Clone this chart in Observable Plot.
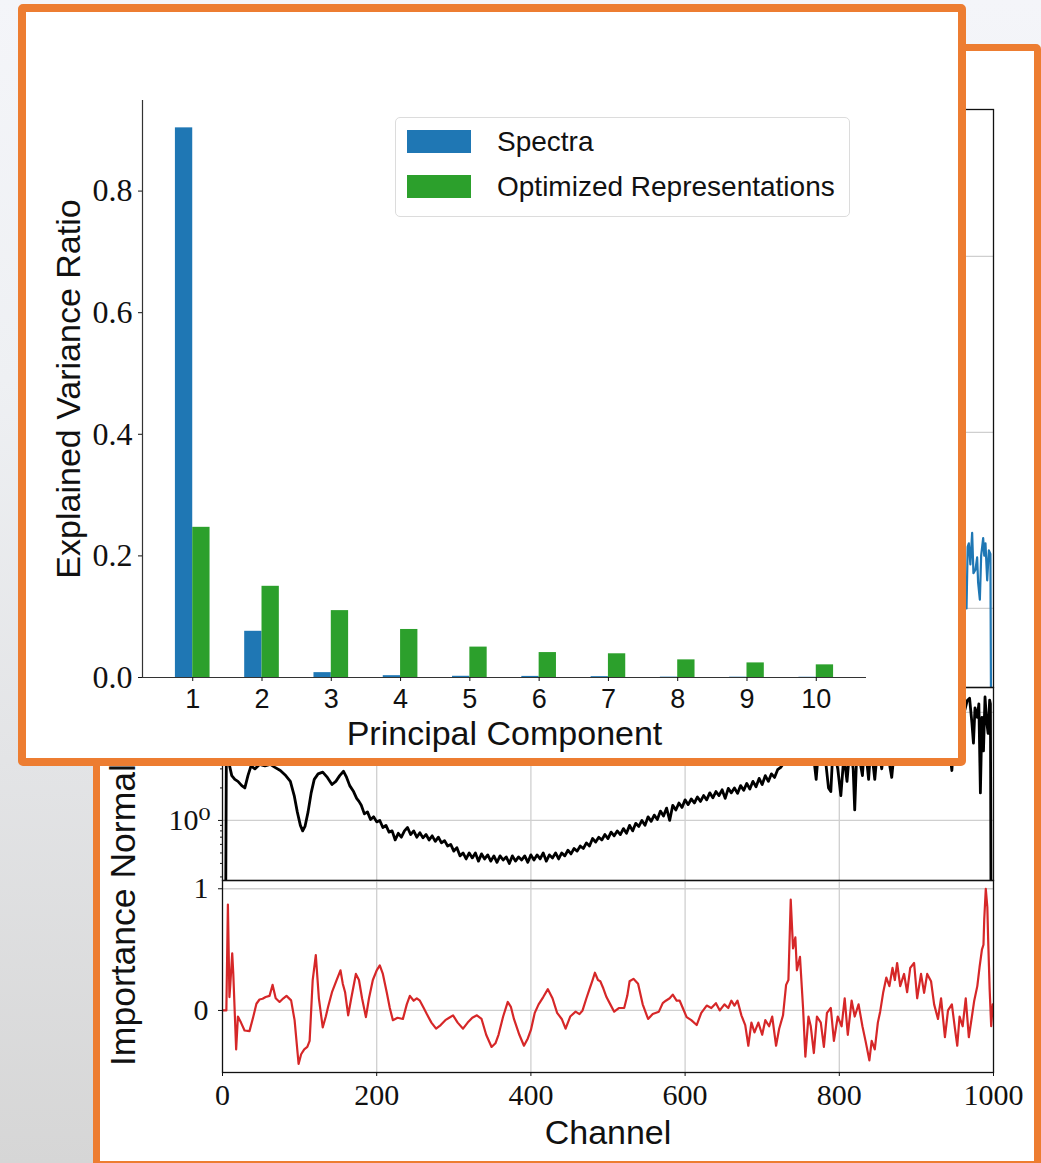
<!DOCTYPE html>
<html>
<head>
<meta charset="utf-8">
<script src="https://cdn.jsdelivr.net/npm/d3@7"></script>
<script src="https://cdn.jsdelivr.net/npm/@observablehq/plot@0.6"></script>
<style>
  body { margin: 0; }
  #page { position: relative; width: 1041px; height: 1163px; overflow: hidden;
    background: linear-gradient(to bottom, #f4f5f9 0px, #eef0f3 380px, #e3e4e6 760px, #d6d6d6 1163px); }
  .panel { position: absolute; box-sizing: border-box; background: #fff; border-style: solid; border-color: #ED7D31; border-radius: 5px; }
  #back { left: 93px; top: 44px; width: 948px; height: 1124px; border-width: 7px; }
  #front { left: 18px; top: 4px; width: 948px; height: 762px; border-width: 8px; }
  #ylabBack { position: absolute; left: 106px; top: 1066px; transform-origin: 0 0; transform: rotate(-90deg);
    white-space: nowrap; font: 35.5px "Liberation Sans", Arial, sans-serif; line-height: 1; color: #111; }
  #legend { position: absolute; left: 395px; top: 117px; width: 455px; height: 100px; box-sizing: border-box;
    border: 1.5px solid #dcdcdc; border-radius: 5px; background: rgba(255,255,255,0.85);
    font: 28px "Liberation Sans", Arial, sans-serif; color: #111; }
  .item { position: absolute; left: 11px; height: 23px; display: flex; align-items: center; white-space: nowrap; }
  .sw { width: 64px; height: 23px; margin-right: 26px; }
</style>
</head>
<body>
<div id="page"></div>
<script>
// ---------- Data: PCA explained variance ----------
const pcs = [1, 2, 3, 4, 5, 6, 7, 8, 9, 10];
const spectraVar = [0.904, 0.076, 0.008, 0.003, 0.002, 0.0018, 0.0014, 0.0006, 0.0005, 0.0004];
const optimizedVar = [0.247, 0.150, 0.110, 0.079, 0.050, 0.041, 0.039, 0.029, 0.024, 0.0208];
const seriesNames = ["Spectra", "Optimized Representations"];
const varTicks = [0, 0.2, 0.4, 0.6, 0.8];

// ---------- Data: background figure (channel, value) ----------
const channelTicks = [0, 200, 400, 600, 800, 1000];
const blueSpectrum = [[930,1.3],[945,1.25],[958,1.35],[965,1.0],[966.5,1.35],[968,1.37],[970,1.25],[972.3,1.43],[974,1.2],[976.6,1.22],[978.8,1.29],[980,1.15],[982.3,1.05],[984,1.3],[986.6,1.40],[988,1.3],[989.6,1.37],[991.8,1.16],[994,1.33],[996,1.31],[997,0.2],[1000,0.2]];
const blackSpectrum = [[0,0.1],[4,0.1],[5,4.0],[8,3.5],[12,2.6],[16,2.4],[20,2.3],[25,2.1],[29,2.0],[33,2.6],[37,3.2],[42,3.0],[48,3.3],[55,3.2],[62,3.3],[68,3.1],[75,2.9],[82,2.6],[88,2.3],[93,1.7],[97,1.2],[101,0.9],[104,0.8],[107,0.88],[111,1.2],[115,1.8],[119,2.4],[124,2.7],[130,2.8],[136,2.5],[142,2.15],[147,2.3],[152,2.6],[157,2.85],[161,2.5],[165,2.1],[170,1.85],[174,1.6],[177,1.5],
  [180,1.38],[184,1.15],[188,1.2],[192,1.02],[196,1.08],[200,0.97],[204,1.0],[208,0.86],[212,0.9],[216,0.78],[220,0.8],[224,0.66],[228,0.76],[232,0.7],[236,0.8],[240,0.86],[244,0.74],[248,0.8],[252,0.7],[256,0.77],[260,0.69],[264,0.74],[268,0.66],[272,0.72],[276,0.64],[280,0.7],[284,0.62],[288,0.65],[292,0.58],[296,0.6],[300,0.52],[304,0.56],[308,0.47],[312,0.5],[316,0.44],[320,0.5],[324,0.45],[328,0.5],[332,0.42],[336,0.49],[340,0.44],[344,0.48],[348,0.42],[352,0.47],[356,0.41],[360,0.47],[364,0.43],[368,0.46],[372,0.4],[376,0.47],[380,0.42],[384,0.46],[388,0.43],[392,0.47],[396,0.41],[400,0.48],[404,0.43],[408,0.48],[412,0.44],[416,0.5],[420,0.42],[424,0.48],[428,0.45],[432,0.5],[436,0.44],[440,0.5],[444,0.47],[448,0.53],[452,0.49],[456,0.55],[460,0.52],[464,0.58],[468,0.55],[472,0.62],[476,0.58],[480,0.68],[484,0.63],[488,0.7],[492,0.66],[496,0.74],[500,0.68],[504,0.78],[508,0.72],[512,0.8],[516,0.74],[520,0.84],[524,0.76],[528,0.9],[532,0.8],[536,0.94],[540,0.88],[544,1.0],[548,0.9],[552,1.08],[556,0.98],[560,1.12],[564,1.02],[568,1.22],[572,1.1],[576,1.3],[580,1.0],[584,1.38],[588,1.25],[592,1.45],[596,1.32],[600,1.55],[604,1.4],[608,1.58],[612,1.45],[616,1.65],[620,1.5],[624,1.7],[628,1.55],[632,1.8],[636,1.62],[640,1.85],[644,1.7],[648,1.92],[652,1.6],[656,1.98],[660,1.8],[664,2.0],[668,1.78],[672,2.1],[676,1.9],[680,2.2],[684,1.95],[688,2.3],[692,2.05],[696,2.45],[700,2.15],[704,2.6],[708,2.3],[712,2.7],[716,2.5],[720,2.95],[724,3.1],
  [728,3.4],[735,3.8],[745,4.5],[755,5],[765,5],[770,2.4],[773,4.5],[780,5],[786,2.0],[789,1.85],[792,5],[798,3.0],[802,1.7],[806,4],[810,2.3],[814,5],[818,3.0],[820,1.25],[823,5],[830,2.6],[833,5.5],[838,2.4],[841,5],[846,2.4],[850,5],[855,3.0],[860,5.5],[868,2.5],[872,5],[880,6],[900,6],[920,7],[940,7],[946,2.9],[950,8],[962,10],[966,12.9],[969,13.5],[972,8],[974,5.2],[976,11],[979,9],[981,12],[983,1.8],[985,9],[987,4.4],[989,13.9],[991,8.4],[993,6.4],[995,13],[996,12],[997,0.05],[1000,0.05]];
const importance = [[0,0],[5,0],[7,0.87],[9,0.11],[10,0.2],[12.6,0.47],[14,0.3],[17.7,-0.32],[20,-0.05],[24,-0.1],[28.6,-0.165],[35,-0.17],[40,-0.05],[44,0.055],[48,0.09],[52,0.096],[56,0.11],[61,0.12],[65,0.21],[69,0.1],[74,0.07],[79,0.1],[83,0.12],[89,0.083],[93.5,-0.08],[98.7,-0.44],[102,-0.36],[106,-0.32],[110,-0.3],[113,-0.25],[117,0.25],[121,0.455],[125,0.1],[130,-0.14],[134,-0.05],[137,0.03],[142,0.15],[148,0.25],[153,0.33],[156,0.22],[159,0.15],[163,-0.04],[167,0.1],[173,0.3],[177,0.25],[181,0.1],[186,-0.055],[190,0.1],[195,0.25],[200,0.33],[204,0.37],[208,0.3],[213,0.15],[217,0.02],[221,-0.08],[227,-0.06],[234,-0.07],[239,0.05],[243,0.12],[248,0.08],[252,0.1],[256,0.08],[261,0.02],[265,-0.03],[271,-0.1],[277,-0.15],[283,-0.12],[289,-0.08],[294,-0.06],[299,-0.04],[305,-0.1],[312,-0.15],[318,-0.1],[324,-0.06],[330,-0.04],[336,-0.07],[342,-0.2],[349,-0.30],[354,-0.27],[358,-0.2],[364,-0.05],[370,0.07],[374,0.03],[378,-0.07],[385,-0.2],[391,-0.29],[396,-0.23],[400,-0.16],[405,-0.02],[410,0.05],[416,0.11],[422,0.175],[428,0.1],[434,-0.02],[440,-0.07],[445,-0.15],[451,-0.05],[458,-0.01],[463,-0.03],[467,0.0],[472,0.1],[476,0.175],[480,0.25],[483,0.31],[487,0.25],[490,0.24],[494,0.18],[498,0.11],[503,0.05],[508,-0.01],[514,0.02],[521,0.02],[525,0.12],[528,0.24],[533,0.26],[539,0.22],[545,0.05],[552,-0.07],[558,-0.03],[566,-0.01],[571,0.06],[575,0.08],[580,0.1],[584,0.13],[589,0.08],[593,0.08],[597,0.02],[602,-0.055],[608,-0.08],[615,-0.12],[621,-0.02],[628,0.04],[634,0.02],[640,0.06],[645,0.0],[651,0.05],[656,0.02],[660,0.08],[664,0.04],[668,0.08],[673,-0.04],[678,-0.12],[682,-0.29],[686,-0.1],[690,-0.18],[695,-0.10],[700,-0.2],[704,-0.08],[709,-0.13],[713,-0.05],[718,-0.29],[722,-0.15],[727,-0.04],[731,0.21],[734,0.25],[737,0.91],[740,0.51],[743,0.6],[745,0.33],[749,0.44],[753,0.02],[756,-0.38],[760,-0.05],[763,-0.13],[767,-0.35],[771,-0.05],[776,-0.1],[780,-0.3],[784,-0.02],[789,0.02],[793,-0.25],[798,-0.05],[803,-0.13],[807,0.1],[811,-0.2],[816,0.08],[820,-0.05],[825,0.05],[830,-0.13],[834,-0.25],[839,-0.41],[842,-0.25],[846,-0.32],[850,-0.1],[853,-0.01],[857,0.15],[861,0.27],[865,0.2],[869,0.35],[872,0.25],[875,0.39],[879,0.2],[884,0.3],[888,0.15],[892,0.35],[897,0.39],[901,0.1],[906,0.3],[910,0.145],[914,0.3],[919,0.24],[923,0.05],[928,-0.07],[932,0.1],[937,-0.22],[941,0.0],[946,0.05],[950,-0.15],[953,-0.29],[956,-0.05],[960,-0.13],[964,0.1],[968,-0.22],[972,-0.05],[975,0.08],[979,0.2],[982,0.36],[985,0.5],[987,0.54],[988,0.75],[990,1.0],[992,0.85],[993,0.6],[995,0.175],[997,-0.13],[999,0.05],[1000,0.0]];

// ---------- Styles ----------
const BLUE = "#1f77b4", GREEN = "#2ca02c", RED = "#d62728";
const GRID = "#cfcfcf";
const SANS = "'Liberation Sans', Arial, sans-serif";
const SERIF = "'Liberation Serif', 'DejaVu Serif', serif";
const page = document.getElementById("page");

function place(el, left, top) {
  el.style.position = "absolute";
  el.style.left = left + "px";
  el.style.top = top + "px";
  page.appendChild(el);
}
function div(id) { const d = document.createElement("div"); d.id = id; return d; }

// Back panel
const back = div("back"); back.className = "panel"; page.appendChild(back);

const common = {
  width: 933, marginLeft: 122, marginRight: 40,
  x: {domain: [0, 1000], axis: null},
  style: {background: "transparent", overflow: "visible", color: "#111", fontFamily: SERIF}
};
const gridX = Plot.gridX([200, 400, 600, 800], {stroke: GRID, strokeOpacity: 1, strokeWidth: 1.3});

// Top (blue) subplot
const bluePlot = Plot.plot({
  ...common, height: 589, marginTop: 9, marginBottom: 2,
  y: {domain: [0.551, 3.835], axis: null},
  marks: [
    Plot.gridY([1, 2, 3], {stroke: GRID, strokeOpacity: 1, strokeWidth: 1.3}),
    gridX,
    Plot.line(blueSpectrum, {x: d => d[0], y: d => d[1], stroke: BLUE, strokeWidth: 2.2, clip: true}),
    Plot.frame({stroke: "#111", strokeWidth: 1.3})
  ]
});
place(bluePlot, 100, 100);

// Middle (black, log) subplot
const minorTicks = [0.3, 0.4, 0.5, 0.6, 0.7, 0.8, 0.9, 2, 3, 4, 5, 6, 7, 8, 9, 10];
const blackPlot = Plot.plot({
  ...common, height: 202, marginTop: 7, marginBottom: 2,
  y: {type: "log", domain: [0.278, 17.0], axis: null},
  marks: [
    Plot.gridY([1, 10], {stroke: GRID, strokeOpacity: 1, strokeWidth: 1.3}),
    gridX,
    Plot.line(blackSpectrum, {x: d => d[0], y: d => d[1], stroke: "#000", strokeWidth: 2.8, clip: true}),
    Plot.frame({stroke: "#111", strokeWidth: 1.3}),
    Plot.axisY([1], {tickFormat: () => "10⁰", fontSize: 30, fontFamily: SERIF, tickSize: 4, tickPadding: 8, label: null}),
    Plot.axisY(minorTicks, {tickFormat: () => "", tickSize: 2, label: null})
  ]
});
place(blackPlot, 100, 680);

// Bottom (red) subplot
const redPlot = Plot.plot({
  ...common, height: 269, marginTop: 7, marginBottom: 70,
  y: {domain: [-0.51, 1.068], axis: null},
  marks: [
    Plot.gridY([0, 1], {stroke: GRID, strokeOpacity: 1, strokeWidth: 1.3}),
    gridX,
    Plot.line(importance, {x: d => d[0], y: d => d[1], stroke: RED, strokeWidth: 2.2, clip: true}),
    Plot.frame({stroke: "#111", strokeWidth: 1.3}),
    Plot.axisY([0, 1], {tickFormat: d => String(d), fontSize: 30, fontFamily: SERIF, tickSize: 4, tickPadding: 10, label: null}),
    Plot.axisX(channelTicks, {tickFormat: d => String(d), fontSize: 30, fontFamily: SERIF, tickSize: 4, tickPadding: 7, label: null}),
    Plot.text(["Channel"], {frameAnchor: "bottom", lineAnchor: "middle", dy: 61, fontSize: 34, fontFamily: SANS, fill: "#111"})
  ]
});
place(redPlot, 100, 873);

const ylab = div("ylabBack"); ylab.textContent = "Importance Normalized"; page.appendChild(ylab);

// Front panel
const front = div("front"); front.className = "panel"; page.appendChild(front);

const barData = pcs.map((pc, i) => ({pc, spectra: spectraVar[i], optimized: optimizedVar[i]}));
const barPlot = Plot.plot({
  width: 932, height: 746, marginLeft: 116, marginRight: 92, marginTop: 88, marginBottom: 81,
  style: {background: "transparent", overflow: "visible", color: "#111", fontFamily: SANS},
  x: {domain: [0.275, 10.725], axis: null},
  y: {domain: [0, 0.949], axis: null},
  marks: [
    Plot.rect(barData, {x1: d => d.pc - 0.25, x2: "pc", y1: 0, y2: "spectra", fill: BLUE}),
    Plot.rect(barData, {x1: "pc", x2: d => d.pc + 0.25, y1: 0, y2: "optimized", fill: GREEN}),
    Plot.ruleX([0.275], {stroke: "#333", strokeWidth: 1.2}),
    Plot.ruleY([0], {stroke: "#333", strokeWidth: 1.2}),
    Plot.axisY(varTicks, {tickFormat: d3.format(".1f"), fontSize: 32, fontFamily: SERIF, tickSize: 4, tickPadding: 6, label: null}),
    Plot.axisX(pcs, {tickFormat: d => String(d), fontSize: 27, fontFamily: SANS, tickSize: 4, tickPadding: 7, label: null}),
    Plot.text(["Principal Component"], {frameAnchor: "bottom", lineAnchor: "middle", dy: 57, fontSize: 34, fill: "#111"}),
    Plot.text(["Explained Variance Ratio"], {frameAnchor: "left", textAnchor: "middle", lineAnchor: "middle", dx: -73, rotate: -90, fontSize: 34, fill: "#111"})
  ]
});
place(barPlot, 26, 12);

// Legend
const legend = div("legend");
[[seriesNames[0], BLUE, 12], [seriesNames[1], GREEN, 57]].forEach(([name, color, top]) => {
  const it = document.createElement("div"); it.className = "item"; it.style.top = top + "px";
  const sw = document.createElement("div"); sw.className = "sw"; sw.style.background = color;
  const tx = document.createElement("span"); tx.textContent = name;
  it.appendChild(sw); it.appendChild(tx); legend.appendChild(it);
});
page.appendChild(legend);
</script>
</body>
</html>
